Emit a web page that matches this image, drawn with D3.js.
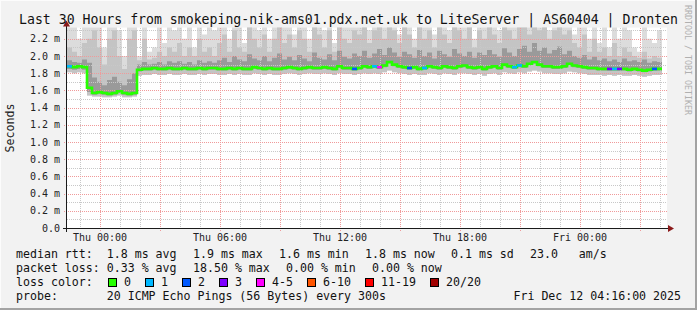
<!DOCTYPE html>
<html>
<head>
<meta charset="utf-8">
<script src="https://cdn.jsdelivr.net/npm/d3@7"></script>
<style>
  body { margin: 0; background: #f2f2f2; }
  svg { display: block; }
  text { font-family: "DejaVu Sans Mono", monospace; white-space: pre; }
</style>
</head>
<body>
<svg id="chart" width="697" height="310"></svg>
<script>
// ---------- data (15 minute buckets, values in ms) ----------
const startTime = new Date(2025, 11, 10, 22, 21);
const stepMinutes = 15;

const median = [
  1.88,1.87,1.88,1.87,1.63,
  1.57,1.58,1.57,1.56,1.57,1.59,1.57,1.56,1.57,
  1.84,1.85,1.85,1.86,1.85,1.85,1.86,1.85,1.85,1.86,1.85,1.85,1.86,1.85,1.86,1.86,
  1.85,1.85,1.86,1.85,1.86,1.85,1.85,1.87,1.86,1.85,1.86,1.85,1.85,1.86,1.87,1.86,1.85,1.86,1.87,1.86,1.86,1.87,1.86,1.85,1.88,1.86,1.86,1.85,
  1.86,1.88,1.87,1.88,1.87,1.89,1.93,1.90,1.88,1.87,1.86,1.87,1.85,1.86,1.88,1.87,1.86,1.88,1.87,1.86,1.88,1.89,1.87,1.86,1.87,1.85,1.87,1.88,1.86,1.90,1.88,1.87,
  1.89,1.88,1.91,1.93,1.90,1.88,1.88,1.87,1.87,1.88,1.91,1.89,1.88,1.87,1.86,1.86,1.85,1.85,1.85,1.85,1.85,1.85,1.84,1.85,1.84,1.83,1.84,1.85,1.85
];
const pingMin = [
  1.81,1.80,1.81,1.80,1.54,
  1.53,1.53,1.52,1.52,1.53,1.54,1.52,1.52,1.53,
  1.77,1.78,1.78,1.79,1.78,1.78,1.79,1.78,1.78,1.79,1.78,1.78,1.79,1.78,1.79,1.79,
  1.78,1.78,1.79,1.78,1.79,1.78,1.78,1.80,1.79,1.78,1.79,1.78,1.78,1.79,1.80,1.79,1.78,1.79,1.80,1.79,1.79,1.80,1.79,1.78,1.80,1.79,1.79,1.78,
  1.79,1.80,1.79,1.80,1.79,1.81,1.83,1.81,1.80,1.79,1.78,1.79,1.78,1.78,1.80,1.79,1.78,1.80,1.79,1.78,1.80,1.80,1.79,1.78,1.79,1.77,1.79,1.80,1.78,1.81,1.80,1.79,
  1.81,1.80,1.82,1.83,1.82,1.80,1.80,1.79,1.79,1.80,1.82,1.81,1.80,1.79,1.78,1.78,1.78,1.77,1.78,1.77,1.78,1.77,1.77,1.78,1.77,1.76,1.77,1.78,1.78
];
const pingQ1 = [
  1.85,1.84,1.85,1.84,1.58,
  1.55,1.56,1.55,1.54,1.55,1.57,1.55,1.54,1.55,
  1.82,1.83,1.83,1.84,1.83,1.83,1.84,1.83,1.83,1.84,1.83,1.83,1.84,1.83,1.84,1.84,
  1.83,1.83,1.84,1.83,1.84,1.83,1.83,1.85,1.84,1.83,1.84,1.83,1.83,1.84,1.85,1.84,1.83,1.84,1.85,1.84,1.84,1.85,1.84,1.83,1.86,1.84,1.84,1.83,
  1.84,1.86,1.85,1.86,1.85,1.87,1.91,1.88,1.86,1.85,1.84,1.85,1.83,1.84,1.86,1.85,1.84,1.86,1.85,1.84,1.86,1.87,1.85,1.84,1.85,1.83,1.85,1.86,1.84,1.88,1.86,1.85,
  1.87,1.86,1.89,1.91,1.88,1.86,1.86,1.85,1.85,1.86,1.89,1.87,1.86,1.85,1.84,1.84,1.83,1.83,1.83,1.83,1.83,1.83,1.82,1.83,1.82,1.81,1.82,1.83,1.83
];
const pingQ3 = [
  1.95,1.93,1.92,1.96,1.92,
  1.75,1.70,1.66,1.72,1.76,1.70,1.66,1.73,1.80,
  1.90,1.93,1.90,1.91,1.93,1.90,1.94,1.92,1.94,1.91,1.93,1.90,1.95,1.92,1.94,1.92,
  1.95,1.98,1.93,2.00,1.96,1.94,2.02,1.97,1.95,2.00,1.94,1.98,2.03,1.96,1.99,1.95,2.01,1.97,1.94,2.04,1.98,1.96,2.02,1.95,2.06,1.99,1.97,2.03,
  2.00,2.06,1.98,2.03,2.08,2.01,2.10,2.04,1.99,2.05,2.02,1.98,2.07,2.00,2.04,1.97,2.06,2.02,1.99,2.08,2.03,2.00,2.05,1.98,2.04,2.01,2.07,2.02,1.99,2.09,2.04,2.00,
  2.08,2.12,2.05,2.15,2.06,2.10,2.03,2.07,2.11,2.02,2.06,2.00,1.98,2.01,1.96,1.99,1.95,1.97,1.94,1.96,1.93,1.97,1.94,1.95,1.93,1.96,1.92,1.94,1.93
];
const ping90 = [
  2.10,2.05,2.00,2.15,2.20,
  2.30,2.10,1.90,2.20,2.30,2.00,1.85,2.20,2.30,
  1.95,2.20,1.96,1.98,2.05,2.00,2.10,2.05,2.15,2.00,2.10,2.00,2.20,2.05,2.10,2.00,
  2.15,2.25,2.05,2.30,2.10,2.05,2.35,2.20,2.10,2.25,2.05,2.20,2.35,2.15,2.25,2.10,2.30,2.20,2.05,2.35,2.25,2.10,2.30,2.05,2.35,2.20,2.15,2.30,
  2.25,2.35,2.15,2.30,2.35,2.20,2.35,2.30,2.15,2.35,2.25,2.10,2.35,2.20,2.30,2.10,2.35,2.25,2.15,2.35,2.30,2.20,2.35,2.10,2.30,2.20,2.35,2.25,2.15,2.35,2.30,2.20,
  2.35,2.35,2.25,2.35,2.30,2.35,2.20,2.30,2.35,2.25,2.30,2.15,2.10,2.25,2.05,2.20,2.05,2.10,2.00,2.15,2.00,2.10,2.05,2.00,1.98,2.05,1.97,2.00,1.98
];
const pingMax = [
  2.40,2.40,2.20,2.40,2.40,
  2.40,2.40,2.10,2.40,2.40,2.30,2.00,2.40,2.40,
  2.00,2.40,2.05,2.10,2.40,2.15,2.40,2.30,2.40,2.20,2.40,2.10,2.40,2.25,2.40,2.30,
  2.40,2.40,2.20,2.40,2.40,2.15,2.40,2.40,2.30,2.40,2.20,2.40,2.40,2.40,2.40,2.25,2.40,2.40,2.20,2.40,2.40,2.30,2.40,2.15,2.40,2.40,2.40,2.40,
  2.40,2.40,2.30,2.40,2.40,2.40,2.40,2.40,2.25,2.40,2.40,2.20,2.40,2.40,2.40,2.25,2.40,2.40,2.30,2.40,2.40,2.40,2.40,2.20,2.40,2.40,2.40,2.40,2.30,2.40,2.40,2.40,
  2.40,2.40,2.40,2.40,2.40,2.40,2.30,2.40,2.40,2.40,2.40,2.25,2.40,2.40,2.20,2.40,2.15,2.40,2.10,2.40,2.20,2.40,2.30,2.10,2.05,2.40,2.20,2.15,2.30
];
// [bucket index, loss class index]
const lossEvents = [[0,1],[57,2],[61,1],[62,4],[68,2],[71,1],[89,1],[90,1],[108,3],[109,1],[110,3],[117,2]];

const lossLabels = ["0", "1", "2", "3", "4-5", "6-10", "11-19", "20/20"];
const lossColors = ["#26ff00", "#00b8ff", "#0059ff", "#7e00ff", "#ff00ff", "#ff5500", "#ff0000", "#a10000"];

const yMajorTicks = [0, 0.2, 0.4, 0.6, 0.8, 1.0, 1.2, 1.4, 1.6, 1.8, 2.0, 2.2];
const yMinorTicks = [0.1, 0.3, 0.5, 0.7, 0.9, 1.1, 1.3, 1.5, 1.7, 1.9, 2.1, 2.3];

// legend lines: rrdtool places each element after the previous one plus a fixed gap
const legendRtt = ["median rtt:  1.8 ms avg", "1.9 ms max", "1.6 ms min", "1.8 ms now", "0.1 ms sd", "23.0   am/s"];
const legendLoss = ["packet loss: 0.33 % avg", "18.50 % max", "0.00 % min", "0.00 % now"];
const legendProbe = "probe:       20 ICMP Echo Pings (56 Bytes) every 300s";
const dateText = "Fri Dec 12 04:16:00 2025";
const titleText = "Last 30 Hours from smokeping-nik-ams01.pdx.net.uk to LiteServer | AS60404 | Dronten";

// ---------- layout ----------
const W = 697, H = 310;
const plot = { left: 67, right: 667, top: 27.6, bottom: 228 };
const charW = 7.0, legendGap = 16, legendX = 16;
const svg = d3.select("#chart");

const x = d3.scaleTime()
  .domain([startTime, d3.timeHour.offset(startTime, 30)])
  .range([plot.left, plot.right]);
const y = d3.scaleLinear().domain([0, 2.33]).range([plot.bottom, plot.top]);

// frame
svg.append("rect").attr("width", W).attr("height", H).attr("fill", "#f2f2f2");
svg.append("rect").attr("x", 0).attr("y", 0).attr("width", W).attr("height", 1).attr("fill", "#fcfcfc");
svg.append("rect").attr("x", 0).attr("y", 0).attr("width", 1).attr("height", H).attr("fill", "#fcfcfc");
svg.append("rect").attr("x", W - 2).attr("y", 0).attr("width", 2).attr("height", H).attr("fill", "#a3a3a3");
svg.append("rect").attr("x", 0).attr("y", H - 2).attr("width", W).attr("height", 2).attr("fill", "#a3a3a3");

svg.append("rect")
  .attr("x", plot.left).attr("y", plot.top)
  .attr("width", plot.right - plot.left).attr("height", plot.bottom - plot.top)
  .attr("fill", "#ffffff");

svg.append("clipPath").attr("id", "plotClip")
  .append("rect")
  .attr("x", plot.left).attr("y", plot.top)
  .attr("width", plot.right - plot.left).attr("height", plot.bottom - plot.top);

// bucket rows, with a closing row so step curves reach the bucket end
const rows = median.map((m, i) => ({
  t: d3.timeMinute.offset(startTime, i * stepMinutes),
  i, m, lo: pingMin[i], q1: pingQ1[i], q3: pingQ3[i], p90: ping90[i], hi: pingMax[i]
}));
const last = rows[rows.length - 1];
rows.push({ ...last, t: d3.timeMinute.offset(startTime, rows.length * stepMinutes) });

// ---------- smoke ----------
const smoke = svg.append("g").attr("clip-path", "url(#plotClip)");
const bands = [
  { lo: (d) => d.lo, hi: (d) => d.hi, fill: "#dcdcdc" },
  { lo: (d) => d.lo, hi: (d) => d.p90, fill: "#c4c4c4" },
  { lo: (d) => d.q1, hi: (d) => d.q3, fill: "#9a9a9a" },
];
bands.forEach((b) => {
  smoke.append("path")
    .datum(rows)
    .attr("fill", b.fill)
    .attr("d", d3.area().curve(d3.curveStepAfter)
      .x((d) => x(d.t)).y0((d) => y(b.lo(d))).y1((d) => y(b.hi(d))));
});

// ---------- grid ----------
const grid = svg.append("g").attr("shape-rendering", "crispEdges");
const hours = d3.timeHour.range(d3.timeHour.ceil(startTime), d3.timeHour.offset(startTime, 30));
grid.selectAll("line.vmin").data(hours.filter((h) => h.getHours() % 3 !== 0)).join("line")
  .attr("x1", (d) => Math.round(x(d)) + 0.5).attr("x2", (d) => Math.round(x(d)) + 0.5)
  .attr("y1", plot.top).attr("y2", plot.bottom)
  .attr("stroke", "#c8c8c8").attr("stroke-dasharray", "1,1");
grid.selectAll("line.hmin").data(yMinorTicks).join("line")
  .attr("x1", plot.left).attr("x2", plot.right)
  .attr("y1", (d) => Math.round(y(d)) + 0.5).attr("y2", (d) => Math.round(y(d)) + 0.5)
  .attr("stroke", "#c8c8c8").attr("stroke-dasharray", "1,1");
grid.selectAll("line.vmaj").data(hours.filter((h) => h.getHours() % 3 === 0)).join("line")
  .attr("x1", (d) => Math.round(x(d)) + 0.5).attr("x2", (d) => Math.round(x(d)) + 0.5)
  .attr("y1", plot.top).attr("y2", plot.bottom + 3)
  .attr("stroke", "#f09a9a").attr("stroke-dasharray", "1,1");
grid.selectAll("line.hmaj").data(yMajorTicks.slice(1)).join("line")
  .attr("x1", plot.left - 3).attr("x2", plot.right)
  .attr("y1", (d) => Math.round(y(d)) + 0.5).attr("y2", (d) => Math.round(y(d)) + 0.5)
  .attr("stroke", "#f09a9a").attr("stroke-dasharray", "1,1");

// ---------- median line ----------
const medLine = d3.line().curve(d3.curveStepAfter).x((d) => x(d.t)).y((d) => y(d.m));
svg.append("path").datum(rows)
  .attr("fill", "none").attr("stroke", "#202020").attr("stroke-width", 1)
  .attr("d", medLine);
svg.append("path").datum(rows)
  .attr("fill", "none").attr("stroke", lossColors[0]).attr("stroke-width", 2.6)
  .attr("d", medLine);
svg.append("g").selectAll("line").data(lossEvents).join("line")
  .attr("x1", (d) => x(rows[d[0]].t)).attr("x2", (d) => x(rows[d[0] + 1].t))
  .attr("y1", (d) => y(rows[d[0]].m)).attr("y2", (d) => y(rows[d[0]].m))
  .attr("stroke", (d) => lossColors[d[1]]).attr("stroke-width", 2.6);

// ---------- axes ----------
const axisG = svg.append("g").attr("shape-rendering", "crispEdges");
axisG.append("line").attr("x1", plot.left - 4).attr("x2", plot.right + 2)
  .attr("y1", plot.bottom + 0.5).attr("y2", plot.bottom + 0.5).attr("stroke", "#1a1a1a");
axisG.append("line").attr("x1", plot.left - 0.5).attr("x2", plot.left - 0.5)
  .attr("y1", plot.bottom + 4).attr("y2", plot.top - 2).attr("stroke", "#1a1a1a");
svg.append("path")
  .attr("d", `M${plot.right + 1},${plot.bottom - 3}L${plot.right + 7},${plot.bottom + 0.5}L${plot.right + 1},${plot.bottom + 4}Z`)
  .attr("fill", "#8b1a1a");
svg.append("path")
  .attr("d", `M${plot.left - 4},${plot.top - 1}L${plot.left - 0.5},${plot.top - 7}L${plot.left + 3},${plot.top - 1}Z`)
  .attr("fill", "#8b1a1a");

svg.append("g").selectAll("text").data(yMajorTicks).join("text")
  .attr("x", 60).attr("y", (d) => y(d) + 3.6)
  .attr("text-anchor", "end").attr("font-size", 10).attr("fill", "#222")
  .text((d) => d === 0 ? "0.0" : d3.format(".1f")(d) + " m");

const labelHours = hours.filter((h) => h.getHours() % 6 === 0);
svg.append("g").selectAll("text").data(labelHours).join("text")
  .attr("x", (d) => x(d)).attr("y", 241)
  .attr("text-anchor", "middle").attr("font-size", 10).attr("fill", "#222")
  .text((d) => d3.timeFormat("%a %H:%M")(d));

svg.append("text")
  .attr("transform", "translate(14,128) rotate(-90)")
  .attr("text-anchor", "middle").attr("font-size", 11.6).attr("fill", "#222")
  .text("Seconds");

svg.append("text")
  .attr("x", W / 2).attr("y", 23.5).attr("text-anchor", "middle")
  .attr("font-size", 13.2).attr("fill", "#111")
  .text(titleText);

svg.append("text")
  .attr("transform", "translate(685,5) rotate(90)")
  .attr("font-size", 8.3).attr("fill", "#b0b0b0")
  .text("RRDTOOL / TOBI OETIKER");

// ---------- legend ----------
const legend = svg.append("g").attr("font-size", 11.6).attr("fill", "#111");

function legendRow(items, yPos) {
  let cx = legendX;
  const placed = items.map((s) => {
    const item = { s, x: cx };
    cx += s.length * charW + legendGap;
    return item;
  });
  legend.append("g").selectAll("text").data(placed).join("text")
    .attr("xml:space", "preserve")
    .attr("x", (d) => d.x).attr("y", yPos).text((d) => d.s);
}
legendRow(legendRtt, 258);
legendRow(legendLoss, 272);
legendRow(["loss color:"], 286);
legendRow([legendProbe], 300);
legend.append("text").attr("x", 681).attr("y", 300).attr("text-anchor", "end").text(dateText);

let bx = 108;
const boxes = lossLabels.map((label, k) => {
  const item = { label, color: lossColors[k], x: bx };
  bx += 30 + label.length * charW;
  return item;
});
const lc = legend.append("g").selectAll("g").data(boxes).join("g");
lc.append("rect")
  .attr("x", (d) => d.x + 0.5).attr("y", 278.5).attr("width", 8).attr("height", 8)
  .attr("fill", (d) => d.color).attr("stroke", "#000").attr("stroke-width", 1)
  .attr("shape-rendering", "crispEdges");
lc.append("text").attr("x", (d) => d.x + 16).attr("y", 286).text((d) => d.label);
</script>
</body>
</html>
